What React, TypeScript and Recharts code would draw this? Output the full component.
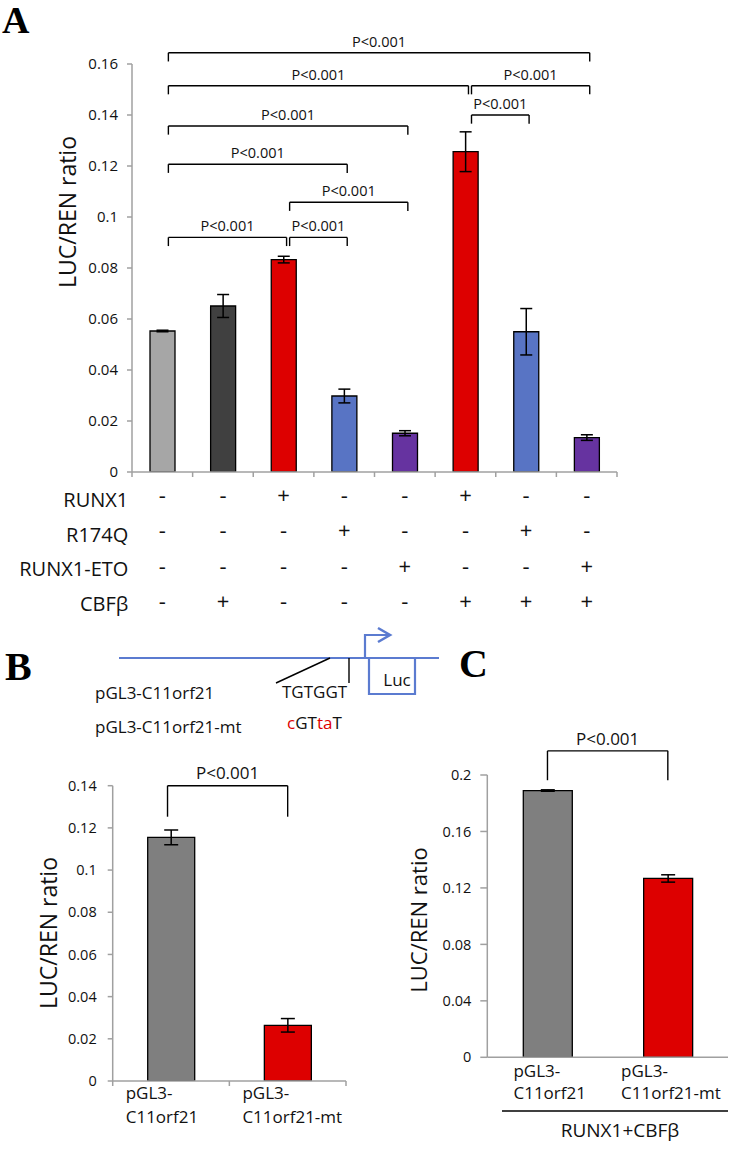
import React from 'react';
import { BarChart, Bar, XAxis, YAxis, ErrorBar, Cell, ReferenceLine } from 'recharts';

// Panel A
const groupsA = ['c1', 'c2', 'c3', 'c4', 'c5', 'c6', 'c7', 'c8'];
const ratioA = [0.0553, 0.0651, 0.0833, 0.0298, 0.0152, 0.1256, 0.055, 0.0135];
const errA = [0.0003, 0.0045, 0.0013, 0.0027, 0.001, 0.0078, 0.0091, 0.0011];
const colorsA = ['#a6a6a6', '#404040', '#dd0000', '#5874c4', '#6633a0', '#dd0000', '#5874c4', '#6633a0'];
const runx1 = ['-', '-', '+', '-', '-', '+', '-', '-'];
const r174q = ['-', '-', '-', '+', '-', '-', '+', '-'];
const runx1Eto = ['-', '-', '-', '-', '+', '-', '-', '+'];
const cbfb = ['-', '+', '-', '-', '-', '+', '+', '+'];
const rowLabels = ['RUNX1', 'R174Q', 'RUNX1-ETO', 'CBFβ'];
const ticksA = [0, 0.02, 0.04, 0.06, 0.08, 0.1, 0.12, 0.14, 0.16];
const bracketsA = [
  { from: 0, to: 2, y: 0.092 },
  { from: 2, to: 3, y: 0.092 },
  { from: 2, to: 4, y: 0.1058 },
  { from: 0, to: 3, y: 0.1207 },
  { from: 0, to: 4, y: 0.1357 },
  { from: 5, to: 6, y: 0.14 },
  { from: 0, to: 5, y: 0.1515 },
  { from: 5, to: 7, y: 0.1515 },
  { from: 0, to: 7, y: 0.1644 },
];

// Panels B and C
const namesBC = ['pGL3-C11orf21', 'pGL3-C11orf21-mt'];
const ratioB = [0.1155, 0.0264];
const errB = [0.0035, 0.0032];
const ratioC = [0.189, 0.1267];
const errC = [0.0005, 0.0026];
const colorsBC = ['#7f7f7f', '#dd0000'];
const ticksB = [0, 0.02, 0.04, 0.06, 0.08, 0.1, 0.12, 0.14];
const ticksC = [0, 0.04, 0.08, 0.12, 0.16, 0.2];

// slot = centre of each bar's band on a 0..n numeric axis
const dataA = groupsA.map((name, i) => ({ name, slot: i + 0.5, ratio: ratioA[i], err: errA[i] }));
const dataB = namesBC.map((name, i) => ({ name, slot: i + 0.5, ratio: ratioB[i], err: errB[i] }));
const dataC = namesBC.map((name, i) => ({ name, ratio: ratioC[i], err: errC[i] }));
const slotTicks = (n: number) => Array.from({ length: n + 1 }, (_, i) => i);

const AXIS = '#a0a0a0';
const INK = '#111';
const BLUE = '#5b7bd0';

function bracket(key: string, x1: any, x2: any, y: number, drop: number, fontSize: number, offset: number, xAxisId: any) {
  return [
    <ReferenceLine key={key + 'h'} xAxisId={xAxisId} ifOverflow="visible" stroke="#000" strokeWidth={1.4}
      segment={[{ x: x1, y }, { x: x2, y }]}
      label={{ value: 'P<0.001', position: 'top', offset, fontSize, fill: INK }} />,
    <ReferenceLine key={key + 'l'} xAxisId={xAxisId} ifOverflow="visible" stroke="#000" strokeWidth={1.4}
      segment={[{ x: x1, y }, { x: x1, y: y - drop }]} />,
    <ReferenceLine key={key + 'r'} xAxisId={xAxisId} ifOverflow="visible" stroke="#000" strokeWidth={1.4}
      segment={[{ x: x2, y }, { x: x2, y: y - drop }]} />,
  ];
}

function SignTick(props: any) {
  const { x, y, payload } = props;
  const i = payload.index;
  const rows = [runx1, r174q, runx1Eto, cbfb];
  return (
    <g>
      {rows.map((row, r) => (
        <text key={r} x={x} y={y + 25 + r * 35.3} textAnchor="middle" fontSize={22} fill={INK}>{row[i]}</text>
      ))}
      {i === 0 && rowLabels.map((lab, r) => (
        <text key={'l' + r} x={x - 34} y={y + 29 + r * 34.5} textAnchor="end" fontSize={20} fill={INK}>{lab}</text>
      ))}
    </g>
  );
}

function TickB(props: any) {
  const { x, y, payload } = props;
  const v: string = payload.value;
  const x0 = x - 58.3 + 13;
  return (
    <g>
      <text x={x0} y={y + 12} fontSize={17} fill={INK}>{v.slice(0, 5)}</text>
      <text x={x0} y={y + 36} fontSize={17} fill={INK}>{v.slice(5)}</text>
    </g>
  );
}

function TickC(props: any) {
  const { x, y, payload } = props;
  const v: string = payload.value;
  const x0 = x - v.slice(5).length * 17 * 0.25;
  return (
    <g>
      <text x={x0} y={y + 20} fontSize={17} fill={INK}>{v.slice(0, 5)}</text>
      <text x={x0} y={y + 42} fontSize={17} fill={INK}>{v.slice(5)}</text>
    </g>
  );
}

const noTick = () => <g />;

export default function App() {
  return (
    <div style={{ position: 'absolute', left: 0, top: 0, width: 729, height: 1167, background: '#fff', fontFamily: '"Open Sans", sans-serif' }}>
      {/* A */}
      <div style={{ position: 'absolute', left: 0, top: 0 }}>
        <BarChart width={729} height={640} data={dataA} margin={{ top: 64, right: 112, left: 72, bottom: 0 }}>
          <XAxis xAxisId={0} dataKey="slot" type="number" domain={[0, 8]} ticks={slotTicks(8)} interval={0}
            allowDataOverflow height={6} tickSize={5} tick={noTick} stroke={AXIS} strokeWidth={1.5} />
          <XAxis xAxisId="cat" dataKey="name" height={162} axisLine={false} tickLine={false} tickSize={0} tickMargin={0}
            interval={0} tick={<SignTick />} />
          <YAxis domain={[0, 0.16]} ticks={ticksA} interval={0} width={60} tickSize={5} tickMargin={9}
            stroke={AXIS} strokeWidth={1.5} tick={{ fontSize: 15, fill: INK }} allowDataOverflow />
          <Bar dataKey="ratio" xAxisId="cat" barSize={25} stroke="#000" strokeWidth={1.3} isAnimationActive={false}>
            {dataA.map((d, i) => <Cell key={d.name} fill={colorsA[i]} />)}
            <ErrorBar dataKey="err" width={6} stroke="#000" strokeWidth={1.5} direction="y" isAnimationActive={false} />
          </Bar>
          {bracketsA.flatMap((b, k) => bracket('a' + k, b.from + 0.6, b.to + 0.55, b.y, 0.0034, 14.5, 6, 0))}
        </BarChart>
      </div>

      {/* B */}
      <div style={{ position: 'absolute', left: 0, top: 740 }}>
        <BarChart width={380} height={400} data={dataB} margin={{ top: 45.7, right: 34, left: 52.7, bottom: 0 }}>
          <XAxis xAxisId={0} dataKey="slot" type="number" domain={[0, 2]} ticks={slotTicks(2)} interval={0}
            allowDataOverflow height={6} tickSize={5} tick={noTick} stroke={AXIS} strokeWidth={1.5} />
          <XAxis xAxisId="cat" dataKey="name" height={53} axisLine={false} tickLine={false} tickSize={0} tickMargin={0}
            interval={0} tick={<TickB />} />
          <YAxis domain={[0, 0.14]} ticks={ticksB} interval={0} width={60} tickSize={5} tickMargin={11}
            stroke={AXIS} strokeWidth={1.5} tick={{ fontSize: 14.5, fill: INK }} allowDataOverflow />
          <Bar dataKey="ratio" xAxisId="cat" barSize={47} stroke="#000" strokeWidth={1.3} isAnimationActive={false}>
            {dataB.map((d, i) => <Cell key={d.name} fill={colorsBC[i]} />)}
            <ErrorBar dataKey="err" width={7} stroke="#000" strokeWidth={1.5} direction="y" isAnimationActive={false} />
          </Bar>
          {bracket('b', 0.47, 1.5, 0.14, 0.0147, 17, 6.4, 0)}
        </BarChart>
      </div>

      {/* C */}
      <div style={{ position: 'absolute', left: 380, top: 720 }}>
        <BarChart width={349} height={440} data={dataC} margin={{ top: 55, right: 1, left: 47.3, bottom: 0 }}>
          <XAxis dataKey="name" height={102.7} stroke={AXIS} strokeWidth={1.5} tickLine={false} tickSize={0} tickMargin={0}
            interval={0} tick={<TickC />} />
          <YAxis domain={[0, 0.2]} ticks={ticksC} interval={0} width={60} tickSize={7} tickMargin={9}
            stroke={AXIS} strokeWidth={1.5} tick={{ fontSize: 14.5, fill: INK }} allowDataOverflow />
          <Bar dataKey="ratio" barSize={49} stroke="#000" strokeWidth={1.3} isAnimationActive={false}>
            {dataC.map((d, i) => <Cell key={d.name} fill={colorsBC[i]} />)}
            <ErrorBar dataKey="err" width={7} stroke="#000" strokeWidth={1.5} direction="y" isAnimationActive={false} />
          </Bar>
          {bracket('c', namesBC[0], namesBC[1], 0.2171, 0.0208, 17, 6, 0)}
        </BarChart>
      </div>

      {/* annotations */}
      <svg width={729} height={1167} style={{ position: 'absolute', left: 0, top: 0, pointerEvents: 'none' }}>
        <g fontFamily='"Liberation Serif", serif' fontWeight="bold" fill="#000">
          <text x={2} y={33} fontSize={38}>A</text>
          <text x={5} y={680} fontSize={40}>B</text>
          <text x={459} y={677} fontSize={40}>C</text>
        </g>
        <g fontSize={23} fill={INK} textAnchor="middle">
          <text x={68} y={212} dy="0.35em" transform="rotate(-90 68 212)">LUC/REN ratio</text>
          <text x={49} y={933} dy="0.35em" transform="rotate(-90 49 933)">LUC/REN ratio</text>
          <text x={419} y={920} dy="0.35em" fontSize={22} transform="rotate(-90 419 920)">LUC/REN ratio</text>
        </g>
        {/* construct schematic */}
        <line x1={119} y1={658} x2={439} y2={658} stroke={BLUE} strokeWidth={2.2} />
        <polyline points="365,658 365,635 388,635" fill="none" stroke={BLUE} strokeWidth={2.2} />
        <polyline points="378,628 390,635 378,642" fill="none" stroke={BLUE} strokeWidth={2.6} />
        <polyline points="369,658 369,694 415,694 415,658" fill="none" stroke={BLUE} strokeWidth={2.2} />
        <text x={397} y={686} fontSize={17} textAnchor="middle" fill={INK}>Luc</text>
        <line x1={330} y1={658} x2={276} y2={683} stroke="#000" strokeWidth={1.4} />
        <line x1={349} y1={658} x2={349} y2={683} stroke="#000" strokeWidth={1.4} />
        <text x={95} y={699} fontSize={17} fill={INK}>pGL3-C11orf21</text>
        <text x={95} y={733} fontSize={17} fill={INK}>pGL3-C11orf21-mt</text>
        <text x={282} y={698} fontSize={17} fill={INK}>TGTGGT</text>
        <text x={287} y={729} fontSize={17} fill={INK}>
          <tspan fill="#dd0000">c</tspan>GT<tspan fill="#dd0000">ta</tspan>T
        </text>
        {/* C group label */}
        <line x1={502} y1={1111} x2={728} y2={1111} stroke="#000" strokeWidth={1.4} />
        <text x={620} y={1137} fontSize={19} textAnchor="middle" fill={INK}>RUNX1+CBFβ</text>
      </svg>
    </div>
  );
}
